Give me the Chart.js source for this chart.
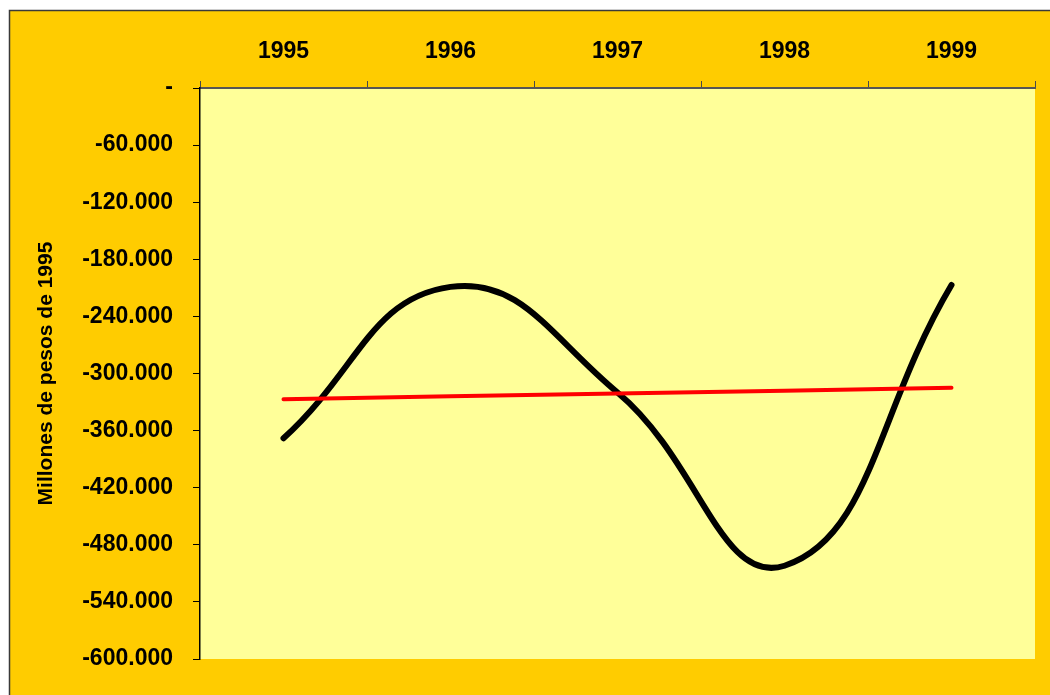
<!DOCTYPE html>
<html>
<head>
<meta charset="utf-8">
<script src="https://cdn.jsdelivr.net/npm/chart.js@4"></script>
<style>
  html, body { margin: 0; padding: 0; background: #ffffff; }
  #wrap { position: absolute; left: 0; top: 0; width: 1050px; height: 695px; }
</style>
</head>
<body>
<div id="wrap"><canvas id="grafico" width="1050" height="695"></canvas></div>
<script>
// datos
const anios = ["1995", "1996", "1997", "1998", "1999"];
const saldo = [-368000, -209000, -320000, -502000, -207000];
const tendencia = [-327000, -324000, -321000, -318000, -315000];

function formatoMiles(valor) {
  if (valor === 0) return "-";
  const signo = valor < 0 ? "-" : "";
  return signo + Math.abs(valor).toString().replace(/\B(?=(\d{3})+(?!\d))/g, ".");
}

// fondo dorado y area de trazado amarilla
const fondoPlugin = {
  id: "fondo",
  beforeDraw(chart) {
    const ctx = chart.ctx;
    const area = chart.chartArea;
    ctx.save();
    ctx.fillStyle = "#ffffff";
    ctx.fillRect(0, 0, chart.width, chart.height);
    ctx.fillStyle = "#FFCC00";
    ctx.fillRect(9, 10, chart.width - 9, chart.height - 10);
    ctx.strokeStyle = "#3a3a3a";
    ctx.lineWidth = 1.5;
    ctx.beginPath();
    ctx.moveTo(9.5, chart.height);
    ctx.lineTo(9.5, 10.5);
    ctx.lineTo(chart.width, 10.5);
    ctx.stroke();
    ctx.fillStyle = "#FFFF99";
    ctx.fillRect(area.left, area.top, area.right - area.left, area.bottom - area.top);
    ctx.restore();
  }
};

const ctx = document.getElementById("grafico").getContext("2d");
const myChart = new Chart(ctx, {
  type: "line",
  data: {
    labels: anios,
    datasets: [
      {
        label: "Tendencia",
        data: tendencia,
        borderColor: "#FF0000",
        borderWidth: 4,
        pointRadius: 0,
        tension: 0,
        fill: false,
        borderCapStyle: "round"
      },
      {
        label: "Saldo",
        data: saldo,
        borderColor: "#000000",
        borderWidth: 6,
        pointRadius: 0,
        tension: 0.45,
        fill: false,
        borderCapStyle: "round"
      }
    ]
  },
  options: {
    responsive: false,
    animation: false,
    layout: { padding: { left: 0, right: 15, top: 0, bottom: 36 } },
    plugins: {
      legend: { display: false },
      tooltip: { enabled: false }
    },
    scales: {
      x: {
        position: "top",
        offset: true,
        grid: {
          offset: true,
          drawOnChartArea: false,
          tickLength: 7,
          color: "#4a4a4a"
        },
        border: { color: "#555555", width: 2 },
        ticks: {
          color: "#000000",
          padding: 16,
          font: { family: "Liberation Sans, Arial", size: 23, weight: "bold" }
        },
        afterFit(scale) { scale.height = 88; }
      },
      y: {
        min: -600000,
        max: 0,
        grid: {
          drawOnChartArea: false,
          tickLength: 7,
          color: "#000000"
        },
        border: { color: "#000000", width: 1.5 },
        ticks: {
          stepSize: 60000,
          color: "#000000",
          padding: 20,
          font: { family: "Liberation Sans, Arial", size: 23, weight: "bold" },
          callback: (valor) => formatoMiles(valor)
        },
        title: {
          display: true,
          text: "Millones de pesos de 1995",
          color: "#000000",
          padding: { top: 34, bottom: 0 },
          font: { family: "Liberation Sans, Arial", size: 21, weight: "bold" }
        },
        afterFit(scale) { scale.width = 200; }
      }
    }
  },
  plugins: [fondoPlugin]
});
</script>
</body>
</html>
